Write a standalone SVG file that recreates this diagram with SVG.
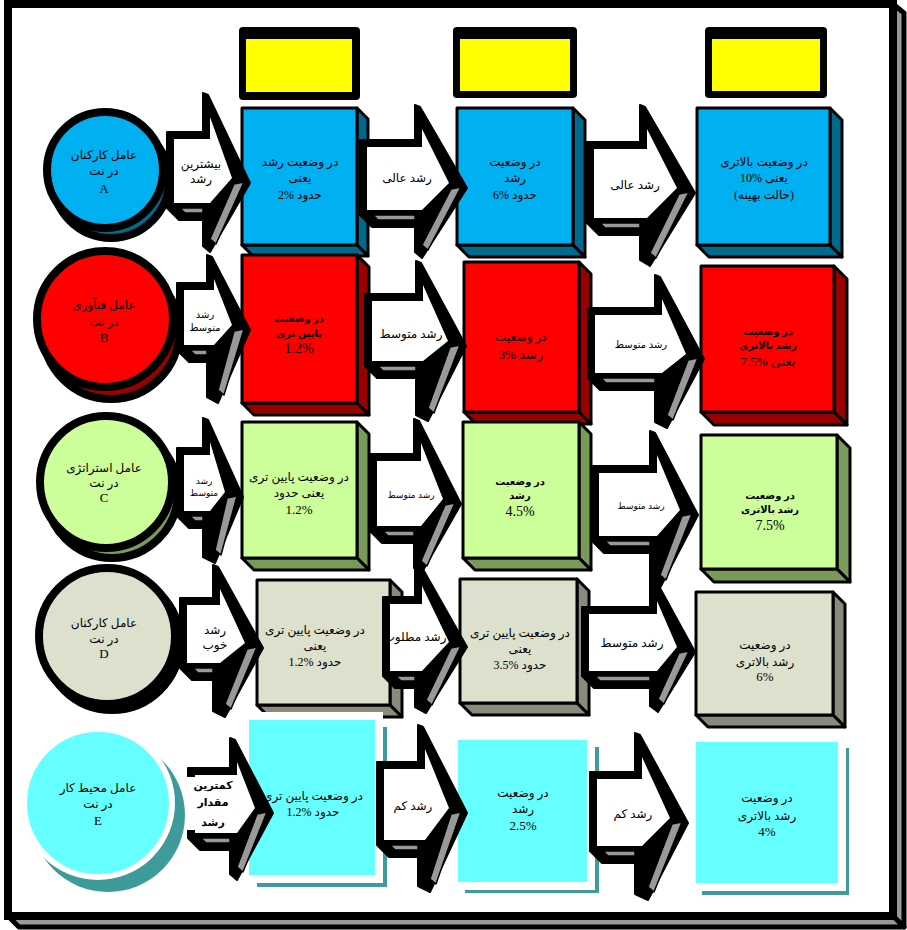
<svg xmlns="http://www.w3.org/2000/svg" width="907" height="930" viewBox="0 0 907 930">
<style>
  .frame { fill:#fff; stroke:#000; stroke-width:8; }
  .depth { fill:#999; stroke:#000; stroke-width:5; stroke-linejoin:round; }
  .hdr-o { fill:#000; }
  .hdr-i { fill:#ffff00; }
  .box { stroke:#000; stroke-width:3; stroke-linejoin:round; }
  .circ { stroke:#000; stroke-width:8; }
  .ak { fill:#000; stroke:#000; stroke-width:2; stroke-linejoin:round; }
  .aw { fill:#fff; }
  .ag { fill:#999; stroke:#000; stroke-width:1.5; stroke-linejoin:round; }
  .a-f { fill:#00b0f0; } .a-s { fill:#006a8c; }
  .b-f { fill:#ff0000; } .b-s { fill:#990000; }
  .c-f { fill:#ccff99; } .c-s { fill:#7a9a5a; }
  .d-f { fill:#dde0cc; } .d-s { fill:#888a7c; }
  .e-f { fill:#66ffff; } .e-s { fill:#3f9b9b; }
  text { font-family:"Liberation Serif","DejaVu Sans",serif; font-size:12px; text-anchor:middle; fill:#000; direction:rtl; unicode-bidi:embed; }
  .sm { font-size:10px; }
  .xs { font-size:9px; }
  .bd { font-weight:bold; font-size:10px; }
  .bd11 { font-weight:bold; font-size:11px; }
  .num { font-size:14px; }
  .lat { font-size:13px; }
</style>

<!-- outer frame with bevelled depth -->
<g id="frame">
  <polygon class="depth" points="893,4 904,13 904,927 893,916"/>
  <polygon class="depth" points="8,916 893,916 904,927 19,927"/>
  <rect class="frame" x="8" y="4" width="885" height="912"/>
</g>

<!-- yellow column headers -->
<g id="header-1"><rect class="hdr-o" x="239" y="27" width="121" height="73" rx="4"/><rect class="hdr-i" x="246" y="39" width="106" height="53"/></g>
<g id="header-2"><rect class="hdr-o" x="453" y="27" width="124" height="71" rx="4"/><rect class="hdr-i" x="460" y="39" width="110" height="52"/></g>
<g id="header-3"><rect class="hdr-o" x="705" y="27" width="122" height="71" rx="4"/><rect class="hdr-i" x="712" y="39" width="108" height="52"/></g>

<!-- row A boxes -->
<g id="box-a1">
  <polygon class="box a-s" points="357,108 368,119 368,256 357,245"/>
  <polygon class="box a-s" points="242,245 357,245 368,256 253,256"/>
  <rect class="box a-f" x="242" y="108" width="115" height="137"/>
  <text x="300" y="166">در وضعیت رشد</text><text x="300" y="182">یعنی</text><text x="300" y="199">حدود &#x200E;2%</text>
</g>
<g id="box-a2">
  <polygon class="box a-s" points="573,108 585,120 585,257 573,245"/>
  <polygon class="box a-s" points="457,245 573,245 585,257 469,257"/>
  <rect class="box a-f" x="457" y="108" width="116" height="137"/>
  <text x="515" y="166">در وضعیت</text><text x="515" y="182">رشد</text><text x="515" y="199">حدود &#x200E;6%</text>
</g>
<g id="box-a3">
  <polygon class="box a-s" points="830,108 842,120 842,257 830,245"/>
  <polygon class="box a-s" points="697,245 830,245 842,257 709,257"/>
  <rect class="box a-f" x="697" y="108" width="133" height="137"/>
  <text x="764" y="166">در وضعیت بالاتری</text><text x="764" y="182">یعنی &#x200E;10%</text><text x="764" y="199">(حالت بهینه)</text>
</g>

<!-- row B boxes -->
<g id="box-b1">
  <polygon class="box b-s" points="357,255 369,267 369,415 357,403"/>
  <polygon class="box b-s" points="242,403 357,403 369,415 254,415"/>
  <rect class="box b-f" x="242" y="255" width="115" height="148"/>
  <text class="bd" x="299" y="322">در وضعیت</text><text class="bd" x="299" y="337">پایین تری</text><text class="num" x="299" y="353">1.2%</text>
</g>
<g id="box-b2">
  <polygon class="box b-s" points="579,262 591,274 591,424 579,412"/>
  <polygon class="box b-s" points="464,412 579,412 591,424 476,424"/>
  <rect class="box b-f" x="464" y="262" width="115" height="150"/>
  <text x="521" y="341">در وضعیت</text><text class="lat" x="521" y="359">رشد &#x200E;3%</text>
</g>
<g id="box-b3">
  <polygon class="box b-s" points="834,266 847,279 847,425 834,412"/>
  <polygon class="box b-s" points="701,412 834,412 847,425 714,425"/>
  <rect class="box b-f" x="701" y="266" width="133" height="146"/>
  <text class="bd" x="768" y="335">در وضعیت</text><text class="bd" x="768" y="349">رشد بالاتری</text><text class="lat" x="768" y="366">یعنی  &#x200E;7.5%</text>
</g>

<!-- row C boxes -->
<g id="box-c1">
  <polygon class="box c-s" points="357,422 369,434 369,570 357,558"/>
  <polygon class="box c-s" points="242,558 357,558 369,570 254,570"/>
  <rect class="box c-f" x="242" y="422" width="115" height="136"/>
  <text x="299" y="481">در وضعیت پایین تری</text><text x="299" y="497">یعنی حدود</text><text class="lat" x="299" y="514">1.2%</text>
</g>
<g id="box-c2">
  <polygon class="box c-s" points="579,422 591,434 591,570 579,558"/>
  <polygon class="box c-s" points="463,558 579,558 591,570 475,570"/>
  <rect class="box c-f" x="463" y="422" width="116" height="136"/>
  <text class="bd" x="520" y="485">در وضعیت</text><text class="bd" x="520" y="499">رشد</text><text class="num" x="520" y="516">4.5%</text>
</g>
<g id="box-c3">
  <polygon class="box c-s" points="837,435 850,448 850,582 837,569"/>
  <polygon class="box c-s" points="701,569 837,569 850,582 714,582"/>
  <rect class="box c-f" x="701" y="435" width="136" height="134"/>
  <text class="bd" x="770" y="499">در وضعیت</text><text class="bd" x="770" y="513">رشد بالاتری</text><text class="num" x="770" y="530">7.5%</text>
</g>

<!-- row D boxes -->
<g id="box-d1">
  <polygon class="box d-s" points="390,580 402,592 402,717 390,705"/>
  <polygon class="box d-s" points="257,705 390,705 402,717 269,717"/>
  <rect class="box d-f" x="257" y="580" width="133" height="125"/>
  <text x="315" y="634">در وضعیت پایین تری</text><text x="315" y="650">یعنی</text><text x="315" y="666">حدود &#x200E;1.2%</text>
</g>
<g id="box-d2">
  <polygon class="box d-s" points="577,579 589,591 589,715 577,703"/>
  <polygon class="box d-s" points="460,703 577,703 589,715 472,715"/>
  <rect class="box d-f" x="460" y="579" width="117" height="124"/>
  <text x="520" y="637">در وضعیت پایین تری</text><text x="520" y="653">یعنی</text><text x="520" y="669">حدود  &#x200E;3.5%</text>
</g>
<g id="box-d3">
  <polygon class="box d-s" points="833,592 845,604 845,727 833,715"/>
  <polygon class="box d-s" points="696,715 833,715 845,727 708,727"/>
  <rect class="box d-f" x="696" y="592" width="137" height="123"/>
  <text x="765" y="649">در وضعیت</text><text x="765" y="666">رشد بالاتری</text><text class="lat" x="765" y="681">6%</text>
</g>

<!-- row E boxes (soft shadow, no outline) -->
<g id="box-e1">
  <rect class="e-s" x="257" y="727" width="130" height="160"/>
  <rect fill="#fff" x="241" y="712" width="142" height="171"/>
  <rect class="e-f" x="249" y="720" width="126" height="155"/>
  <text x="313" y="800">در وضعیت پایین تری</text><text x="313" y="816">حدود &#x200E;1.2%</text>
</g>
<g id="box-e2">
  <rect class="e-s" x="465" y="747" width="134" height="146"/>
  <rect fill="#fff" x="450" y="732" width="145" height="158"/>
  <rect class="e-f" x="458" y="740" width="129" height="142"/>
  <text x="523" y="797">در وضعیت</text><text x="523" y="813">رشد</text><text class="lat" x="523" y="830">2.5%</text>
</g>
<g id="box-e3">
  <rect class="e-s" x="702" y="748" width="147" height="147"/>
  <rect fill="#fff" x="688" y="734" width="158" height="157"/>
  <rect class="e-f" x="696" y="742" width="142" height="141"/>
  <text x="767" y="802">در وضعیت</text><text x="767" y="820">رشد بالاتری</text><text class="lat" x="767" y="836">4%</text>
</g>

<!-- block arrows between stages -->
<g id="connectors">
  <g id="arrow-a1">
    <polygon class="ak" points="167,132 203,132 203,93 208,95 250,183 210,252 203,246 203,220 179,220 167,208"/>
    <polygon class="aw" points="174,139 210,139 210,117 232,178 210,203 174,203"/>
    <polygon class="ag" points="234,184 244,182 216,244 210,239"/>
    <polygon class="ag" points="180,208 203,208 203,213 185,213"/>
    <text x="201" y="168">بیشترین</text><text x="201" y="183">رشد</text>
  </g>
  <g id="arrow-a2">
    <polygon class="ak" points="360,140 415,140 415,105 420,107 467,188 422,258 415,252 415,227 372,227 360,215"/>
    <polygon class="aw" points="367,147 422,147 422,129 449,183 422,210 367,210"/>
    <polygon class="ag" points="451,189 461,187 428,250 422,245"/>
    <polygon class="ag" points="373,215 415,215 415,220 378,220"/>
    <text x="407" y="182">رشد عالی</text>
  </g>
  <g id="arrow-a3">
    <polygon class="ak" points="587,142 640,142 640,105 645,107 695,193 650,266 640,260 640,235 599,235 587,223"/>
    <polygon class="aw" points="594,149 647,149 647,129 677,188 647,218 594,218"/>
    <polygon class="ag" points="679,194 689,192 656,258 650,253"/>
    <polygon class="ag" points="600,223 640,223 640,228 605,228"/>
    <text x="635" y="189">رشد عالی</text>
  </g>

  <g id="arrow-b1">
    <polygon class="ak" points="177,283 207,283 207,255 212,257 250,330 218,403 207,397 207,362 189,362 177,350"/>
    <polygon class="aw" points="184,290 214,290 214,279 232,325 214,345 184,345"/>
    <polygon class="ag" points="234,331 244,329 224,395 218,390"/>
    <polygon class="ag" points="190,350 207,350 207,355 195,355"/>
    <text class="sm" x="205" y="318">رشد</text><text class="sm" x="205" y="331">متوسط</text>
  </g>
  <g id="arrow-b2">
    <polygon class="ak" points="365,294 416,294 416,261 421,263 466,346 428,421 416,415 416,378 377,378 365,366"/>
    <polygon class="aw" points="372,301 423,301 423,285 448,341 423,361 372,361"/>
    <polygon class="ag" points="450,347 460,345 434,413 428,408"/>
    <polygon class="ag" points="378,366 416,366 416,371 383,371"/>
    <text x="411" y="338">رشد متوسط</text>
  </g>
  <g id="arrow-b3">
    <polygon class="ak" points="588,308 655,308 655,275 660,277 704,359 667,428 655,422 655,390 600,390 588,378"/>
    <polygon class="aw" points="595,315 662,315 662,299 686,354 662,373 595,373"/>
    <polygon class="ag" points="688,360 698,358 673,420 667,415"/>
    <polygon class="ag" points="601,378 655,378 655,383 606,383"/>
    <text class="sm" x="641" y="348">رشد متوسط</text>
  </g>

  <g id="arrow-c1">
    <polygon class="ak" points="177,448 203,448 203,418 208,420 243,497 215,563 203,557 203,528 189,528 177,516"/>
    <polygon class="aw" points="184,455 210,455 210,442 225,492 210,511 184,511"/>
    <polygon class="ag" points="227,498 237,496 221,555 215,550"/>
    <polygon class="ag" points="190,516 203,516 203,521 195,521"/>
    <text class="xs" x="204" y="484">رشد</text><text class="xs" x="204" y="496">متوسط</text>
  </g>
  <g id="arrow-c2">
    <polygon class="ak" points="370,454 414,454 414,419 419,421 461,504 421,574 414,568 414,543 382,543 370,531"/>
    <polygon class="aw" points="377,461 421,461 421,443 443,499 421,526 377,526"/>
    <polygon class="ag" points="445,505 455,503 427,566 421,561"/>
    <polygon class="ag" points="383,531 414,531 414,536 388,536"/>
    <text class="xs" x="411" y="498">رشد متوسط</text>
  </g>
  <g id="arrow-c3">
    <polygon class="ak" points="592,466 650,466 650,431 655,433 698,515 660,588 650,582 650,553 604,553 592,541"/>
    <polygon class="aw" points="599,473 657,473 657,455 680,510 657,536 599,536"/>
    <polygon class="ag" points="682,516 692,514 666,580 660,575"/>
    <polygon class="ag" points="605,541 650,541 650,546 610,546"/>
    <text class="xs" x="641" y="509">رشد متوسط</text>
  </g>

  <g id="arrow-d1">
    <polygon class="ak" points="180,598 213,598 213,565 218,567 263,648 225,717 213,711 213,680 192,680 180,668"/>
    <polygon class="aw" points="187,605 220,605 220,589 245,643 220,663 187,663"/>
    <polygon class="ag" points="247,649 257,647 231,709 225,704"/>
    <polygon class="ag" points="193,668 213,668 213,673 198,673"/>
    <text x="215" y="634">رشد</text><text x="215" y="649">خوب</text>
  </g>
  <g id="arrow-d2">
    <polygon class="ak" points="383,597 415,597 415,562 420,564 467,647 426,713 415,707 415,688 395,688 383,676"/>
    <polygon class="aw" points="390,604 422,604 422,586 449,642 422,671 390,671"/>
    <polygon class="ag" points="451,648 461,646 432,705 426,700"/>
    <polygon class="ag" points="396,676 415,676 415,681 401,681"/>
    <text x="415" y="641">رشد مطلوب</text>
  </g>
  <g id="arrow-d3">
    <polygon class="ak" points="582,607 650,607 650,577 655,579 695,652 658,712 650,706 650,688 594,688 582,676"/>
    <polygon class="aw" points="589,614 657,614 657,601 677,647 657,671 589,671"/>
    <polygon class="ag" points="679,653 689,651 664,704 658,699"/>
    <polygon class="ag" points="595,676 650,676 650,681 600,681"/>
    <text x="632" y="647">رشد متوسط</text>
  </g>

  <g id="arrow-e1">
    <polygon class="ak" points="188,768 230,768 230,738 235,740 273,813 237,880 230,874 230,850 200,850 188,838"/>
    <polygon class="aw" points="195,775 237,775 237,762 255,808 237,833 195,833"/>
    <polygon class="ag" points="257,814 267,812 243,872 237,867"/>
    <polygon class="ag" points="201,838 230,838 230,843 206,843"/>
    <rect fill="#fff" x="181" y="777" width="48" height="53"/>
    <text class="bd11" x="213" y="789">کمترین</text><text class="bd11" x="213" y="806">مقدار</text><text class="bd11" x="213" y="826">رشد</text>
  </g>
  <g id="arrow-e2">
    <polygon class="ak" points="377,762 418,762 418,725 423,727 467,813 430,892 418,886 418,857 389,857 377,845"/>
    <polygon class="aw" points="384,769 425,769 425,749 449,808 425,840 384,840"/>
    <polygon class="ag" points="451,814 461,812 436,884 430,879"/>
    <polygon class="ag" points="390,845 418,845 418,850 395,850"/>
    <text x="413" y="810">رشد کم</text>
  </g>
  <g id="arrow-e3">
    <polygon class="ak" points="590,772 635,772 635,733 640,735 688,823 648,900 635,894 635,863 602,863 590,851"/>
    <polygon class="aw" points="597,779 642,779 642,757 670,818 642,846 597,846"/>
    <polygon class="ag" points="672,824 682,822 654,892 648,887"/>
    <polygon class="ag" points="603,851 635,851 635,856 608,856"/>
    <text x="633" y="818">رشد کم</text>
  </g>
</g>

<!-- factor circles -->
<g id="factor-a">
  <circle class="circ a-s" cx="111" cy="180" r="58"/>
  <circle class="circ a-f" cx="105" cy="170" r="58"/>
  <text x="104" y="159">عامل کارکنان</text><text x="104" y="175">در نت</text><text class="lat" x="104" y="193">A</text>
</g>
<g id="factor-b">
  <circle class="circ b-s" cx="111" cy="331" r="68"/>
  <circle class="circ b-f" cx="105" cy="319" r="68"/>
  <text x="104" y="309">عامل فنآوری</text><text x="104" y="326">در نت</text><text class="lat" x="104" y="342">B</text>
</g>
<g id="factor-c">
  <circle class="circ c-s" cx="112" cy="492" r="66"/>
  <circle class="circ c-f" cx="106" cy="482" r="66"/>
  <text x="104" y="472">عامل استراتژی</text><text x="104" y="487">در نت</text><text class="lat" x="104" y="502">C</text>
</g>
<g id="factor-d">
  <circle class="circ d-s" cx="112" cy="642" r="68"/>
  <circle class="circ d-f" cx="107" cy="636" r="68"/>
  <text x="104" y="627">عامل کارکنان</text><text x="104" y="643">در نت</text><text class="lat" x="104" y="658">D</text>
</g>
<g id="factor-e">
  <circle class="e-s" cx="108" cy="815" r="77"/>
  <circle class="e-f" cx="98" cy="803" r="74" stroke="#fff" stroke-width="6"/>
  <text x="98" y="792">عامل محیط کار</text><text x="98" y="808">در نت</text><text class="lat" x="98" y="825">E</text>
</g>
</svg>
